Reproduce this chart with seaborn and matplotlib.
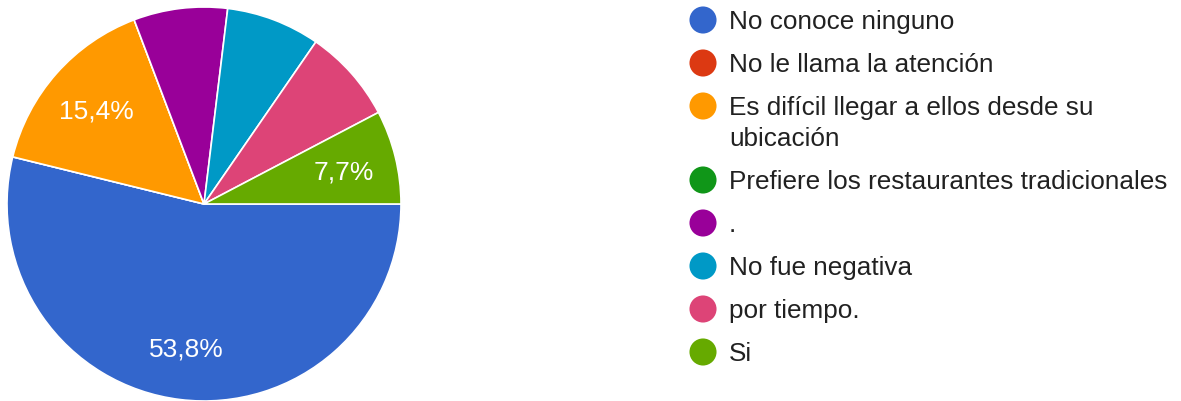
import matplotlib
matplotlib.use("Agg")
import matplotlib.pyplot as plt
import seaborn as sns
import pandas as pd

# Survey answers (13 responses)
labels = [
    "No conoce ninguno",
    "No le llama la atención",
    "Es difícil llegar a ellos desde su\nubicación",
    "Prefiere los restaurantes tradicionales",
    ".",
    "No fue negativa",
    "por tiempo.",
    "Si",
]
counts = [7, 0, 2, 0, 1, 1, 1, 1]
show_pct = [True, False, True, False, False, False, False, True]
colors = ["#3366cc", "#dc3912", "#ff9900", "#109618",
          "#990099", "#0099c6", "#dd4477", "#66aa00"]

sns.set_theme(style="white")
plt.rcParams["font.family"] = ["Liberation Sans", "DejaVu Sans"]

W, H = 1181, 401
fig = plt.figure(figsize=(W / 100, H / 100), dpi=100)

# pie
ax = fig.add_axes([7 / W, 0, 394 / W, 394 / H])
wedges, texts, autotexts = ax.pie(
    counts, colors=colors, startangle=0, counterclock=False,
    autopct=lambda p: f"{p:.1f}%".replace(".", ","), pctdistance=0.73,
    wedgeprops=dict(edgecolor="white", linewidth=1.2),
    textprops=dict(color="white", fontsize=19),
)
for t, show in zip(autotexts, show_pct):
    t.set_va("center_baseline")
    if not show:
        t.set_text("")
ax.set_xlim(-1.0, 1.0)
ax.set_ylim(-1.0, 1.0)
ax.set_aspect("equal")
ax.axis("off")

# legend drawn as its own little axes, one row per answer
lax = fig.add_axes([0, 0, 1, 1])
lax.set_xlim(0, W)
lax.set_ylim(H, 0)
lax.axis("off")

row_pitch, line_pitch, first_row = 43, 31, 20
ys = []
y = first_row
for lab in labels:
    ys.append(y)
    y += row_pitch + line_pitch * lab.count("\n")

leg = pd.DataFrame({"label": labels, "x": [703] * len(labels), "y": ys})
sns.scatterplot(data=leg, x="x", y="y", hue="label", palette=colors,
                s=380, linewidth=0, legend=False, ax=lax)
for lab, yy in zip(labels, ys):
    # top of the text block a bit above the marker centre, first line centred on it
    lax.text(729, yy - 10, lab, va="top", ha="left", fontsize=18.8,
             color="#212121", linespacing=1.36)

fig.savefig("out.png", dpi=100, facecolor="white")
